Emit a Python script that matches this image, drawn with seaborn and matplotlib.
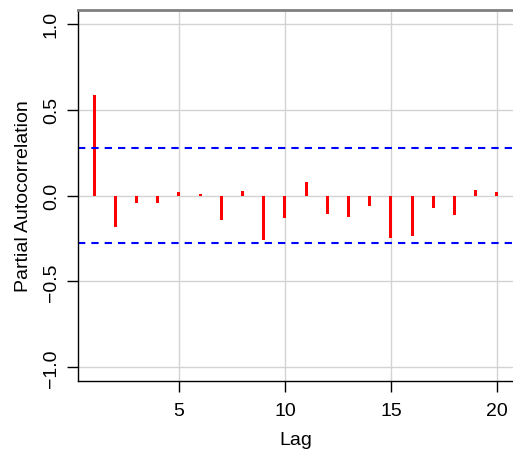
import numpy as np
import pandas as pd
import matplotlib
matplotlib.use("Agg")
import matplotlib.pyplot as plt
import seaborn as sns

# PACF values
lags = list(range(1, 21))
pacf = [0.583, -0.184, -0.045, -0.045, 0.020, 0.008, -0.145, 0.027, -0.260, -0.130,
        0.076, -0.106, -0.126, -0.064, -0.250, -0.238, -0.070, -0.112, 0.031, 0.020]
conf_bound = 0.275

sns.set_style("ticks")
plt.rcParams["font.family"] = ["Liberation Sans", "DejaVu Sans"]
plt.rcParams["text.color"] = "black"
plt.rcParams["axes.labelcolor"] = "black"

df = pd.DataFrame({"Lag": lags, "PACF": pacf})

fig = plt.figure(figsize=(5.13, 4.52), dpi=100)
ax = fig.add_axes([78 / 513, 70 / 452, 435 / 513, 371 / 452])

sns.barplot(data=df, x="Lag", y="PACF", native_scale=True, width=0.15,
            color="red", saturation=1, linewidth=0, ax=ax)

# significance bounds
ax.axhline(conf_bound, color="blue", linestyle=(0, (3.5, 2.9)), linewidth=1.5)
ax.axhline(-conf_bound, color="blue", linestyle=(0, (3.5, 2.9)), linewidth=1.5)

ax.set_xlim(0.24, 20.76)
ax.set_ylim(-1.08, 1.08)
ax.set_xticks([5, 10, 15, 20])
ax.set_yticks([-1.0, -0.5, 0.0, 0.5, 1.0])
ax.set_yticklabels(["\u22121.0", "\u22120.5", "0.0", "0.5", "1.0"], rotation=90, va="center")
ax.grid(True, color="#d3d3d3", linewidth=1.0)

for s in ["left", "bottom"]:
    ax.spines[s].set_color("black")
    ax.spines[s].set_linewidth(1.0)
ax.spines["top"].set_visible(True)
ax.spines["top"].set_color("#808080")
ax.spines["top"].set_linewidth(2.0)
ax.spines["right"].set_visible(False)

ax.tick_params(axis="both", which="major", direction="out", length=8, width=1,
               color="black", labelsize=14, labelcolor="black")
ax.tick_params(axis="y", pad=5)
ax.tick_params(axis="x", pad=7)

ax.set_xlabel("Lag", fontsize=14, labelpad=9, color="black")
ax.set_ylabel("Partial Autocorrelation", fontsize=14, labelpad=8, color="black")

fig.savefig("out.png", dpi=100)
